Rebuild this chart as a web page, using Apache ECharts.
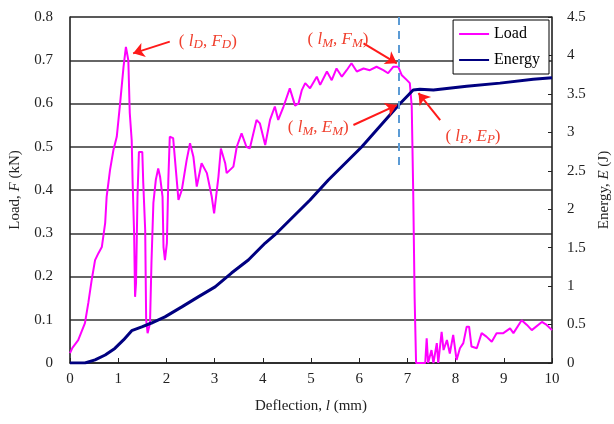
<!DOCTYPE html>
<html>
<head>
<meta charset="utf-8">
<script src="https://cdn.jsdelivr.net/npm/echarts@6/dist/echarts.min.js"></script>
<style>
  html, body { margin: 0; padding: 0; background: #fff; }
  #chart { width: 614px; height: 424px; }
</style>
</head>
<body>
<div id="chart"></div>
<script>
// deflection l (mm), load F (kN)
var loadPoints = [
  [0, 0.023], [0.05, 0.035], [0.17, 0.053], [0.31, 0.092], [0.38, 0.139], [0.45, 0.192],
  [0.52, 0.238], [0.59, 0.254], [0.66, 0.268], [0.73, 0.324], [0.76, 0.384], [0.83, 0.446],
  [0.90, 0.492], [0.97, 0.523], [1.04, 0.601], [1.11, 0.684], [1.16, 0.731], [1.21, 0.70],
  [1.24, 0.578], [1.28, 0.515], [1.30, 0.416], [1.33, 0.30], [1.35, 0.153], [1.37, 0.185],
  [1.40, 0.384], [1.43, 0.488], [1.50, 0.488], [1.52, 0.416], [1.56, 0.307], [1.58, 0.10],
  [1.61, 0.069], [1.66, 0.092], [1.69, 0.231], [1.73, 0.37], [1.78, 0.423], [1.83, 0.45],
  [1.87, 0.43], [1.92, 0.384], [1.94, 0.268], [1.97, 0.238], [2.01, 0.277], [2.04, 0.423],
  [2.07, 0.523], [2.14, 0.52], [2.25, 0.377], [2.32, 0.40], [2.42, 0.469], [2.49, 0.508],
  [2.56, 0.477], [2.63, 0.408], [2.73, 0.462], [2.84, 0.439], [2.94, 0.385], [2.99, 0.346],
  [3.08, 0.431], [3.13, 0.496], [3.22, 0.462], [3.25, 0.439], [3.39, 0.454], [3.46, 0.50],
  [3.56, 0.531], [3.66, 0.50], [3.73, 0.496], [3.87, 0.562], [3.94, 0.554], [4.05, 0.504],
  [4.15, 0.562], [4.25, 0.593], [4.32, 0.562], [4.43, 0.593], [4.56, 0.635], [4.67, 0.595],
  [4.74, 0.60], [4.81, 0.631], [4.88, 0.647], [4.98, 0.635], [5.12, 0.662], [5.19, 0.643],
  [5.33, 0.674], [5.43, 0.654], [5.53, 0.681], [5.64, 0.662], [5.74, 0.677], [5.84, 0.693],
  [5.95, 0.674], [6.09, 0.681], [6.22, 0.677], [6.36, 0.685], [6.50, 0.677], [6.60, 0.670],
  [6.71, 0.685], [6.81, 0.685], [6.88, 0.666], [6.99, 0.654], [7.05, 0.647], [7.09, 0.593],
  [7.12, 0.40], [7.15, 0.15], [7.18, 0], [7.37, 0], [7.40, 0.057], [7.43, 0],
  [7.50, 0.03], [7.54, 0], [7.61, 0.046], [7.64, 0], [7.71, 0.072], [7.75, 0.03],
  [7.82, 0.053], [7.88, 0.022], [7.95, 0.065], [8.02, 0.007], [8.09, 0.034], [8.16, 0.046],
  [8.23, 0.084], [8.28, 0.084], [8.33, 0.038], [8.44, 0.034], [8.54, 0.069], [8.64, 0.061],
  [8.75, 0.049], [8.85, 0.069], [8.99, 0.069], [9.13, 0.080], [9.20, 0.069], [9.37, 0.099],
  [9.48, 0.088], [9.58, 0.076], [9.79, 0.095], [9.89, 0.088], [10.0, 0.076]
];

// deflection l (mm), energy E (J)
var energyPoints = [
  [0, 0], [0.31, 0], [0.52, 0.04], [0.73, 0.104], [0.93, 0.19], [1.11, 0.30], [1.28, 0.42],
  [1.49, 0.47], [1.69, 0.52], [1.97, 0.60], [2.32, 0.73], [2.66, 0.86], [3.01, 0.99],
  [3.35, 1.17], [3.70, 1.34], [4.05, 1.56], [4.29, 1.69], [4.98, 2.12], [5.36, 2.38],
  [6.05, 2.81], [6.81, 3.35], [7.12, 3.55], [7.26, 3.56], [7.54, 3.55], [8.23, 3.60],
  [8.92, 3.64], [9.61, 3.69], [10.0, 3.71]
];

var xTicks = [0, 10, 1];
var loadTicks = [0, 0.8, 0.1];
var energyTicks = [0, 4.5, 0.5];

var serif = 'Liberation Serif';
var red = '#f0402e';

var annRich = {
  p: { fontFamily: serif, fontSize: 17, color: red },
  i: { fontFamily: serif, fontSize: 17, fontStyle: 'italic', color: red },
  s: { fontFamily: serif, fontSize: 13, fontStyle: 'italic', color: red, padding: [7, 0, 0, 0] }
};

function ann(coord, sub1, big2, sub2) {
  return {
    coord: coord,
    symbol: 'circle',
    symbolSize: 1,
    itemStyle: { color: 'rgba(0,0,0,0)' },
    label: {
      show: true,
      position: 'inside',
      formatter: '{p|( }{i|l}{s|' + sub1 + '}{p|, }{i|' + big2 + '}{s|' + sub2 + '}{p|)}',
      rich: annRich
    }
  };
}

function arrow(from, to) {
  return [{ coord: from }, { coord: to }];
}

var chart = echarts.init(document.getElementById('chart'));

var option = {
  animation: false,
  backgroundColor: '#fff',
  grid: {
    left: 70, right: 62, top: 17, bottom: 61,
    outerBoundsMode: 'none',
    containLabel: false,
    show: true, borderColor: '#999', borderWidth: 1
  },
  legend: {
    right: 65, top: 20,
    orient: 'vertical',
    backgroundColor: '#fff',
    borderColor: '#000',
    borderWidth: 1,
    borderRadius: 0,
    padding: [6, 9, 6, 5],
    itemGap: 10,
    itemWidth: 30,
    itemHeight: 10,
    itemStyle: { opacity: 0 },
    textStyle: { fontFamily: serif, fontSize: 16, color: '#000' },
    data: ['Load', 'Energy']
  },
  xAxis: {
    type: 'value',
    min: xTicks[0], max: xTicks[1], interval: xTicks[2],
    name: 'Deflection, {i|l} (mm)',
    nameLocation: 'middle',
    nameGap: 36,
    nameTextStyle: {
      fontFamily: serif, fontSize: 15, color: '#222',
      rich: { i: { fontFamily: serif, fontSize: 15, fontStyle: 'italic', color: '#222' } }
    },
    axisLine: { lineStyle: { color: '#222', width: 1.5 } },
    axisTick: { inside: true, length: 5, lineStyle: { color: '#222' } },
    axisLabel: { fontFamily: serif, fontSize: 15, color: '#222', margin: 9 },
    splitLine: { show: false }
  },
  yAxis: [
    {
      type: 'value',
      min: loadTicks[0], max: loadTicks[1], interval: loadTicks[2],
      name: 'Load, {i|F} (kN)',
      nameLocation: 'middle',
      nameRotate: 90,
      nameGap: 47,
      nameTextStyle: {
        fontFamily: serif, fontSize: 15, color: '#222',
        rich: { i: { fontFamily: serif, fontSize: 15, fontStyle: 'italic', color: '#222' } }
      },
      axisLine: { show: true, lineStyle: { color: '#222', width: 1.5 } },
      axisTick: { show: false },
      axisLabel: { fontFamily: serif, fontSize: 15, color: '#222', margin: 17 },
      splitLine: { show: true, lineStyle: { color: '#333', width: 1.5 } }
    },
    {
      type: 'value',
      min: energyTicks[0], max: energyTicks[1], interval: energyTicks[2],
      name: 'Energy, {i|E} (J)',
      nameLocation: 'middle',
      nameRotate: 90,
      nameGap: 40,
      nameTextStyle: {
        fontFamily: serif, fontSize: 15, color: '#222',
        rich: { i: { fontFamily: serif, fontSize: 15, fontStyle: 'italic', color: '#222' } }
      },
      axisLine: { show: true, lineStyle: { color: '#222', width: 1.5 } },
      axisTick: { show: true, inside: true, length: 4, lineStyle: { color: '#222' } },
      axisLabel: { fontFamily: serif, fontSize: 15, color: '#222', margin: 15 },
      splitLine: { show: false }
    }
  ],
  series: [
    {
      name: 'Load',
      type: 'line',
      yAxisIndex: 0,
      data: loadPoints,
      symbol: 'none',
      lineStyle: { color: '#ff00ff', width: 2 },
      itemStyle: { color: '#ff00ff' },
      z: 3,
      markLine: {
        silent: true,
        symbol: ['none', 'arrow'],
        symbolSize: 11,
        label: { show: false },
        lineStyle: { color: '#ff1a1a', width: 2, type: 'solid' },
        data: [
          arrow([2.07, 0.743], [1.31, 0.716]),
          arrow([6.09, 0.739], [6.78, 0.693]),
          [
            { coord: [6.83, 0.8], symbol: 'none', lineStyle: { color: '#5b9bd5', type: [8, 6], width: 2 } },
            { coord: [6.83, 0.45], symbol: 'none' }
          ]
        ]
      },
      markPoint: {
        silent: true,
        data: [
          ann([2.86, 0.744], 'D', 'F', 'D'),
          ann([5.56, 0.747], 'M', 'F', 'M')
        ]
      }
    },
    {
      name: 'Energy',
      type: 'line',
      yAxisIndex: 1,
      data: energyPoints,
      symbol: 'none',
      lineStyle: { color: '#000080', width: 3 },
      itemStyle: { color: '#000080' },
      z: 4,
      markLine: {
        silent: true,
        symbol: ['none', 'arrow'],
        symbolSize: 11,
        label: { show: false },
        lineStyle: { color: '#ff1a1a', width: 2, type: 'solid' },
        data: [
          arrow([5.88, 3.095], [6.78, 3.355]),
          arrow([7.68, 3.16], [7.23, 3.51])
        ]
      },
      markPoint: {
        silent: true,
        data: [
          ann([5.15, 3.06], 'M', 'E', 'M'),
          ann([8.36, 2.95], 'P', 'E', 'P')
        ]
      }
    }
  ]
};

chart.setOption(option);
</script>
</body>
</html>
